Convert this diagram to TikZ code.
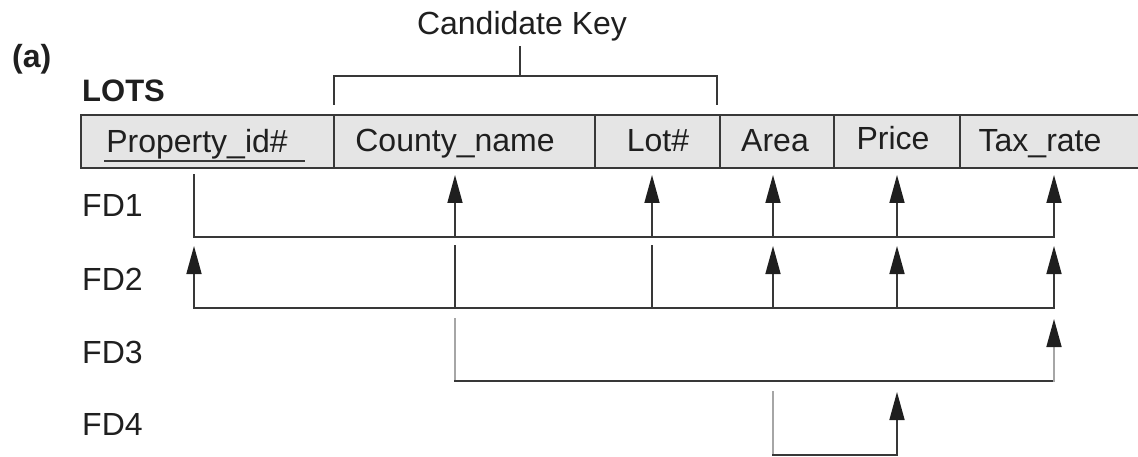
\documentclass[tikz,border=0pt]{standalone}
\usepackage{fontspec}
\setmainfont{Liberation Sans}
\usetikzlibrary{arrows.meta}

\begin{document}
\begin{tikzpicture}[x=1pt,y=-1pt,
    line/.style={line width=1.6pt, draw=black!78, line cap=rect},
    faded/.style={line width=1.6pt, draw=black!35, line cap=rect},
    fd/.style={line, -{Triangle[length=28pt,width=15pt,color=black!88]}},
    fadedfd/.style={faded, -{Triangle[length=28pt,width=15pt,color=black!88]}},
    lbl/.style={anchor=base west, inner sep=0pt, font=\fontsize{32}{38}\selectfont, text=black!88},
    attr/.style={anchor=base, inner sep=0pt, font=\fontsize{32}{38}\selectfont, text=black!88}]

		\useasboundingbox (0,0) rectangle (1138,457);
		
		\node [lbl, font=\bfseries\fontsize{32}{38}\selectfont] (part) at (12,68) {(a)};
		\node [lbl, font=\bfseries\fontsize{31}{38}\selectfont] (lots) at (82,102) {LOTS};
		
		% relation header
		\fill [black!10] (81,115) rectangle (1145,168);
		\draw [line] (1145,115) -- (81,115) -- (81,168) -- (1145,168);
		\foreach \x in {334,595,720,834,960}
			\draw [line] (\x,115) -- (\x,168);
		
		\node [attr] (pid) at (197,153) {Property\_id\#};
		\node [attr] (cname) at (455,152) {County\_name};
		\node [attr] (lot) at (658,152) {Lot\#};
		\node [attr] (area) at (775,152) {Area};
		\node [attr] (price) at (893,150) {Price};
		\node [attr] (tax) at (1040,152) {Tax\_rate};
		\draw [line] (105,161) -- (304,161);
		
		% candidate key
		\node [attr] (ck) at (522,35) {Candidate Key};
		\coordinate (ckS) at (520,47);
		\coordinate (ckM) at (520,76);
		\coordinate (ckL) at (334,104);
		\coordinate (ckR) at (717,104);
		\draw [line] (ckS) -- (ckM);
		\draw [line] (ckL) |- (ckM) -| (ckR);
		
		\foreach \i/\y in {1/217,2/290,3/363,4/435}
			\node [lbl] (fd\i) at (82,\y) {FD\i};
		
		\foreach \c/\x in {P/194,C/455,L/652,A/773,R/897,T/1054}
			\foreach \i/\t/\b in {1/175/237,2/246/308,3/319/381,4/392/455}
			{
				\coordinate (\c\i t) at (\x,\t);
				\coordinate (\c\i b) at (\x,\b);
			}
		
		% FD1
		\draw [line] (P1t) -- (P1b) -- (T1b);
		\foreach \c in {C,L,A,R,T}
			\draw [fd] (\c1b) -- (\c1t);
		
		% FD2
		\draw [fd] (P2b) -- (P2t);
		\draw [line] (P2b) -- (T2b);
		\foreach \c in {C,L}
			\draw [line] (\c2t) -- (\c2b);
		\foreach \c in {A,R,T}
			\draw [fd] (\c2b) -- (\c2t);
		
		% FD3
		\draw [faded] (C3t) -- (C3b);
		\draw [line] (C3b) -- (T3b);
		\draw [fadedfd] (T3b) -- (T3t);
		
		% FD4
		\draw [faded] (A4t) -- (A4b);
		\draw [line] (A4b) -- (R4b);
		\draw [fd] (R4b) -- (R4t);
		
\end{tikzpicture}
\end{document}
